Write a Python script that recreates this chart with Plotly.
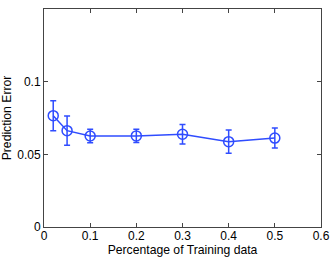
import plotly.graph_objects as go

pct = [0.02, 0.05, 0.1, 0.2, 0.3, 0.4, 0.5]
err_mean = [0.0766, 0.0663, 0.0626, 0.0627, 0.0638, 0.0587, 0.0612]
err_std = [0.0103, 0.0100, 0.0047, 0.0045, 0.0067, 0.0080, 0.0069]
x_ticks = [0, 0.1, 0.2, 0.3, 0.4, 0.5, 0.6]
x_labels = ["0", "0.1", "0.2", "0.3", "0.4", "0.5", "0.6"]
y_ticks = [0, 0.05, 0.1]
y_labels = ["0", "0.05", "0.1"]

blue = "#2f4cff"
font = "Liberation Sans, Arial"
fig = go.Figure()
fig.add_trace(go.Scatter(
    x=pct, y=err_mean, mode="lines+markers",
    line=dict(color=blue, width=1.5),
    marker=dict(symbol="circle-open", size=10, color=blue, line=dict(width=1.5, color=blue)),
    error_y=dict(type="data", array=err_std, visible=True, color=blue, thickness=1.5, width=3),
    showlegend=False,
))

axis_common = dict(
    showgrid=False, zeroline=False, showline=True, linecolor="#444", linewidth=1,
    mirror="ticks", ticks="inside", ticklen=4, tickcolor="#444", automargin=False,
    tickfont=dict(family=font, size=12, color="#000"),
)
fig.update_layout(
    width=332, height=257,
    margin=dict(l=44, r=11, t=9, b=30),
    paper_bgcolor="white", plot_bgcolor="white",
    xaxis=dict(range=[0, 0.6], tickvals=x_ticks, ticktext=x_labels, ticklabelstandoff=-2,
               title=dict(text="Percentage of Training data", standoff=1,
                          font=dict(family=font, size=12.2, color="#000")),
               **axis_common),
    yaxis=dict(range=[0, 0.15], tickvals=y_ticks, ticktext=y_labels,
               title=dict(text="Prediction Error", standoff=4,
                          font=dict(family=font, size=12.2, color="#000")),
               **axis_common),
)
fig.write_html("out.html", config={"displayModeBar": False},
               post_script="document.body.style.margin='0';document.body.style.overflow='hidden';")
